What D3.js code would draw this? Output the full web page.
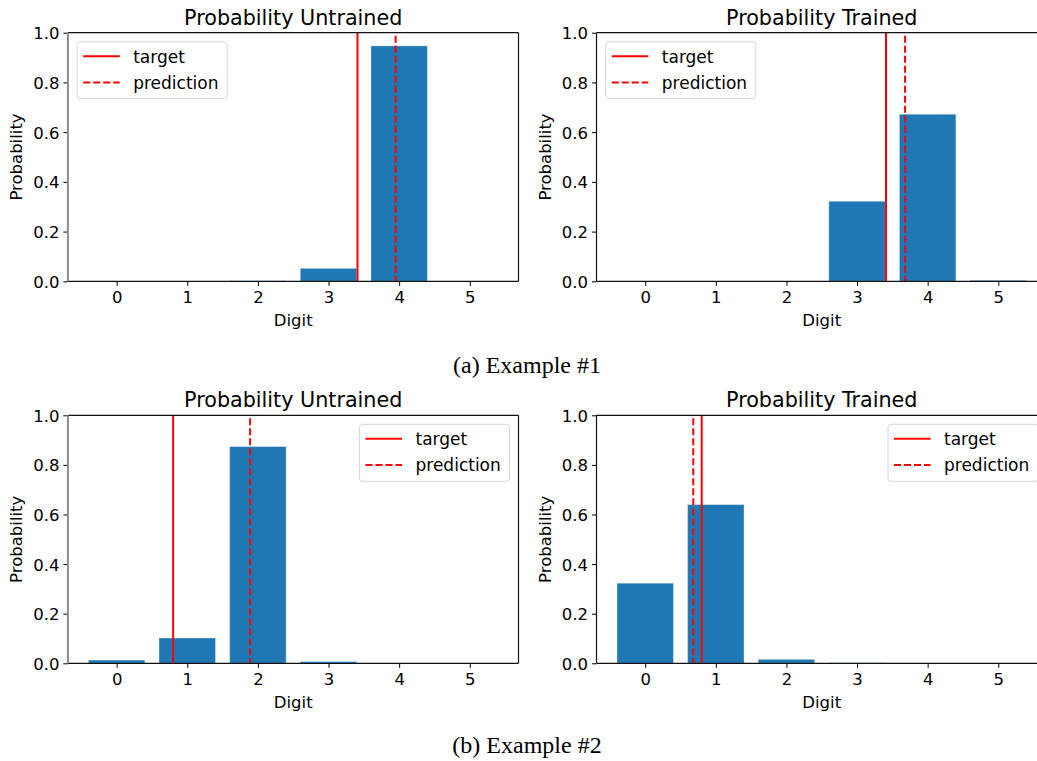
<!DOCTYPE html>
<html>
<head>
<meta charset="utf-8">
<script src="https://cdn.jsdelivr.net/npm/d3@7"></script>
<style>
  body { margin: 0; background: #fff; }
  svg { display: block; }
  text { font-family: "DejaVu Sans", sans-serif; fill: #000; }
  .caption { font-family: "Liberation Serif", "Times New Roman", serif; }
</style>
</head>
<body>
<div id="chart"></div>
<script>
// digits on the x axis and y ticks
const digits = [0, 1, 2, 3, 4, 5];
const yTicks = [0, 0.2, 0.4, 0.6, 0.8, 1.0];

// bar heights
const ex1Untrained = [0.0003, 0.0003, 0.002, 0.052, 0.947, 0.0003];
const ex1Trained   = [0.0003, 0.001, 0.001, 0.322, 0.672, 0.004];
const ex2Untrained = [0.013, 0.102, 0.874, 0.007, 0.0005, 0.0005];
const ex2Trained   = [0.323, 0.640, 0.016, 0.002, 0.0005, 0.0005];

// target / prediction lines (x position)
const ex1Target = 3.41, ex1PredUntrained = 3.95, ex1PredTrained = 3.68;
const ex2Target = 0.80, ex2PredUntrained = 1.89, ex2PredTrained = 0.68;

const titles = ["Probability Untrained", "Probability Trained"];
const captions = ["(a) Example #1", "(b) Example #2"];
const legendLabels = ["target", "prediction"];

const W = 1037, H = 761;
const barColor = "#1f77b4";
const red = "#ff0000";

const svg = d3.select("#chart").append("svg")
  .attr("width", W)
  .attr("height", H)
  .attr("viewBox", `0 0 ${W} ${H}`);

svg.append("rect").attr("width", W).attr("height", H).attr("fill", "#fff");

// panel boxes
const panels = [
  {x0: 67.9, x1: 518.5, y0: 32.7, y1: 281.3, vals: ex1Untrained, target: ex1Target, pred: ex1PredUntrained, title: titles[0], legend: "left", graySpine: true},
  {x0: 596.5, x1: 1047, y0: 32.7, y1: 281.3, vals: ex1Trained, target: ex1Target, pred: ex1PredTrained, title: titles[1], legend: "left", graySpine: false},
  {x0: 67.9, x1: 518.5, y0: 415.3, y1: 663.3, vals: ex2Untrained, target: ex2Target, pred: ex2PredUntrained, title: titles[0], legend: "right", graySpine: true},
  {x0: 596.5, x1: 1047, y0: 415.3, y1: 663.3, vals: ex2Trained, target: ex2Target, pred: ex2PredTrained, title: titles[1], legend: "right", graySpine: false}
];

panels.forEach((p, i) => {
  const x = d3.scaleLinear().domain([-0.69, 5.69]).range([p.x0, p.x1]);
  const y = d3.scaleLinear().domain([0, 1]).range([p.y1, p.y0]);
  const g = svg.append("g");

  const clipId = "clip" + i;
  g.append("clipPath").attr("id", clipId)
    .append("rect")
    .attr("x", p.x0).attr("y", p.y0)
    .attr("width", p.x1 - p.x0).attr("height", p.y1 - p.y0);

  const plot = g.append("g").attr("clip-path", `url(#${clipId})`);

  // bars
  plot.selectAll(".bar")
    .data(digits)
    .enter()
    .append("rect")
    .attr("class", "bar")
    .attr("x", d => x(d - 0.4))
    .attr("width", d => x(d + 0.4) - x(d - 0.4))
    .attr("y", d => y(p.vals[d]))
    .attr("height", d => y(0) - y(p.vals[d]))
    .attr("fill", barColor)
    .attr("stroke", "rgba(255,255,255,0.35)")
    .attr("stroke-width", 1);

  // target + prediction lines
  plot.append("line")
    .attr("x1", x(p.target)).attr("x2", x(p.target))
    .attr("y1", y(1)).attr("y2", y(0))
    .attr("stroke", red).attr("stroke-width", 2);

  plot.append("line")
    .attr("x1", x(p.pred)).attr("x2", x(p.pred))
    .attr("y1", y(1)).attr("y2", y(0))
    .attr("stroke", red).attr("stroke-width", 2)
    .attr("stroke-dasharray", "7,3")
    .attr("stroke-dashoffset", -3);

  // axes
  const xAxis = g.append("g")
    .attr("transform", `translate(0,${p.y1})`)
    .call(d3.axisBottom(x).tickValues(digits).tickSize(4.5).tickPadding(5).tickFormat(d3.format("d")));
  const yAxis = g.append("g")
    .attr("transform", `translate(${p.x0},0)`)
    .call(d3.axisLeft(y).tickValues(yTicks).tickSize(4.5).tickPadding(4).tickFormat(d3.format(".1f")));

  [xAxis, yAxis].forEach(a => {
    a.select(".domain").remove();
    a.selectAll(".tick line").attr("stroke", "#000").attr("stroke-width", 1);
    a.selectAll(".tick text")
      .style("font-family", "DejaVu Sans, sans-serif")
      .style("font-size", "16.5px")
      .attr("fill", "#000");
  });
  yAxis.selectAll(".tick text").attr("dy", "0.36em");

  // spines
  const spine = (x1, y1, x2, y2, col, w) => g.append("line")
    .attr("x1", x1).attr("y1", y1).attr("x2", x2).attr("y2", y2)
    .attr("stroke", col).attr("stroke-width", w);
  spine(p.x0, p.y0, p.x1, p.y0, "#111", 1.2);
  spine(p.x0, p.y1, p.x1, p.y1, "#111", 1.2);
  spine(p.x1, p.y0, p.x1, p.y1, "#111", 1.2);
  if (p.graySpine) spine(p.x0, p.y0, p.x0, p.y1, "#8a8a8a", 2);
  else spine(p.x0, p.y0, p.x0, p.y1, "#111", 1.2);

  // title and labels
  g.append("text")
    .attr("x", (p.x0 + p.x1) / 2).attr("y", p.y0 - 8)
    .attr("text-anchor", "middle")
    .style("font-size", "20.7px")
    .text(p.title);

  g.append("text")
    .attr("x", (p.x0 + p.x1) / 2).attr("y", p.y1 + 44.5)
    .attr("text-anchor", "middle")
    .style("font-size", "16.5px")
    .text("Digit");

  g.append("text")
    .attr("transform", `translate(${p.x0 - 45.5},${(p.y0 + p.y1) / 2}) rotate(-90)`)
    .attr("text-anchor", "middle")
    .style("font-size", "16.5px")
    .text("Probability");

  // legend
  const lw = 150, lh = 57;
  const lx = p.legend === "left" ? p.x0 + 9.3 : p.x1 - 9 - lw;
  const ly = p.y0 + 9;
  const leg = g.append("g").attr("transform", `translate(${lx},${ly})`);
  leg.append("rect")
    .attr("width", lw).attr("height", lh)
    .attr("rx", 3)
    .attr("fill", "rgba(255,255,255,0.8)")
    .attr("stroke", "#d6d6d6").attr("stroke-width", 1);
  legendLabels.forEach((lab, k) => {
    const yy = 14.5 + k * 26.3;
    leg.append("line")
      .attr("x1", 6).attr("x2", 42.5)
      .attr("y1", yy).attr("y2", yy)
      .attr("stroke", red).attr("stroke-width", 2)
      .attr("stroke-dasharray", k === 1 ? "7,3" : null);
    leg.append("text")
      .attr("x", 56).attr("y", yy + 6.4)
      .style("font-size", "17px")
      .text(lab);
  });
});

// captions under each row
svg.selectAll(".caption")
  .data(captions)
  .enter()
  .append("text")
  .attr("class", "caption")
  .attr("x", 527)
  .attr("y", (d, i) => i === 0 ? 373 : 753)
  .attr("text-anchor", "middle")
  .style("font-family", "Liberation Serif, Times New Roman, serif")
  .style("font-size", "24px")
  .text(d => d);
</script>
</body>
</html>
